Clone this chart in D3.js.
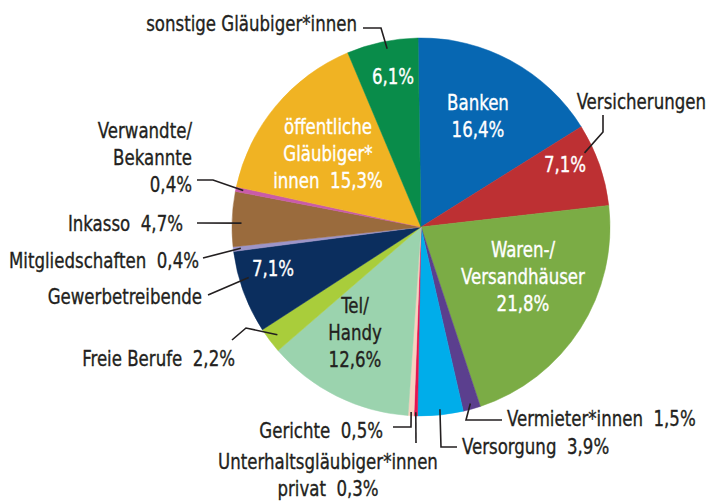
<!DOCTYPE html>
<html>
<head>
<meta charset="utf-8">
<script src="https://cdn.jsdelivr.net/npm/d3@7"></script>
<style>
  body { margin: 0; background: #fff; }
  text { font-family: "DejaVu Sans Condensed", "Liberation Sans Narrow", sans-serif; font-size: 22px; white-space: pre; }
</style>
</head>
<body>
<div id="chart"></div>
<script>
// Gläubiger, clockwise from 12 o'clock
const names = ["Banken", "Versicherungen", "Waren-/Versandhäuser", "Vermieter*innen", "Versorgung",
  "Unterhaltsgläubiger*innen privat", "Gerichte", "Tel/Handy", "Freie Berufe", "Gewerbetreibende",
  "Mitgliedschaften", "Inkasso", "Verwandte/Bekannte", "öffentliche Gläubiger*innen", "sonstige Gläubiger*innen"];
const values = [16.4, 7.1, 21.8, 1.5, 3.9, 0.3, 0.5, 12.6, 2.2, 7.1, 0.4, 4.7, 0.4, 15.3, 6.1];
const colors = ["#0767b2", "#bd3033", "#7bac45", "#5b3f8e", "#00adea", "#e5134f", "#f8d1bf", "#9bd3ae",
  "#a9cd3b", "#0b2e5e", "#9d95c9", "#9a6b3d", "#c95ba9", "#f0b323", "#098c4a"];

const width = 708, height = 501;
const cx = 421, cy = 227, radius = 189;
const ink = "#231f20";
const squeeze = 0.84; // condensed look

const fmt = v => d3.format(".1f")(v).replace(".", ",") + "%";

// labels inside the slices ("%" = value)
const inner = {
  "Banken": { lines: ["Banken", "%"], x: 478, y: 110, fill: "#fff" },
  "Versicherungen": { lines: ["%"], x: 565, y: 172, fill: "#fff" },
  "Waren-/Versandhäuser": { lines: ["Waren-/", "Versandhäuser", "%"], x: 523, y: 257, fill: "#fff" },
  "Tel/Handy": { lines: ["Tel/", "Handy", "%"], x: 355, y: 313, fill: ink },
  "Gewerbetreibende": { lines: ["%"], x: 273, y: 276, fill: "#fff" },
  "öffentliche Gläubiger*innen": { lines: ["öffentliche", "Gläubiger*", "innen  %"], x: 328, y: 134, fill: "#fff" },
  "sonstige Gläubiger*innen": { lines: ["%"], x: 393, y: 84, fill: "#fff" }
};

// labels outside with leader lines (at = position within slice, k = radius share)
const outer = {
  "sonstige Gläubiger*innen": { lines: ["sonstige Gläubiger*innen"], x: 357, y: 31, anchor: "end", elbow: [[363, 28], [381, 28]], at: 0.55, k: 0.96 },
  "Versicherungen": { lines: ["Versicherungen"], x: 706, y: 109, anchor: "end", elbow: [[603, 115], [603, 132]], at: 0.3, k: 0.95 },
  "Vermieter*innen": { lines: ["Vermieter*innen  %"], x: 507, y: 426, anchor: "start", elbow: [[502, 420], [466, 420]], at: 0.5, k: 0.97 },
  "Versorgung": { lines: ["Versorgung  %"], x: 462, y: 454, anchor: "start", elbow: [[457, 447], [441, 447]], at: 0.5, k: 0.97 },
  "Unterhaltsgläubiger*innen privat": { lines: ["Unterhaltsgläubiger*innen", "privat  %"], x: 328, y: 469, anchor: "middle", elbow: [[416, 443]], at: 0.5, k: 0.98 },
  "Gerichte": { lines: ["Gerichte  %"], x: 383, y: 438, anchor: "end", elbow: [[393, 427], [411, 427]], at: 0.5, k: 0.98 },
  "Freie Berufe": { lines: ["Freie Berufe  %"], x: 235, y: 366, anchor: "end", elbow: [[232, 340], [246, 328]], at: 0.5, k: 0.95 },
  "Gewerbetreibende": { lines: ["Gewerbetreibende"], x: 202, y: 304, anchor: "end", elbow: [[208, 295]], at: 0.65, k: 0.95 },
  "Mitgliedschaften": { lines: ["Mitgliedschaften  %"], x: 199, y: 268, anchor: "end", elbow: [[203, 258]], at: 0.5, k: 0.96 },
  "Inkasso": { lines: ["Inkasso  %"], x: 183, y: 231, anchor: "end", elbow: [[197, 223]], at: 0.43, k: 0.95 },
  "Verwandte/Bekannte": { lines: ["Verwandte/", "Bekannte", "%"], x: 192, y: 138, anchor: "end", elbow: [[197, 180], [213, 180]], at: 0.5, k: 0.96 }
};

const data = names.map((n, i) => ({ name: n, value: values[i], color: colors[i] }));

const svg = d3.select("#chart").append("svg")
  .attr("width", width)
  .attr("height", height);

const g = svg.append("g").attr("transform", `translate(${cx},${cy})`);

const offset = -0.9 * Math.PI / 180;
const pie = d3.pie().sort(null).value(d => d.value)
  .startAngle(offset).endAngle(2 * Math.PI + offset);
const arc = d3.arc().innerRadius(0).outerRadius(radius);
const arcs = pie(data);

g.selectAll("path.slice")
  .data(arcs)
  .enter().append("path")
  .attr("class", "slice")
  .attr("d", arc)
  .attr("fill", d => d.data.color)
  .attr("stroke", d => d.data.color)
  .attr("stroke-width", 0.5);

// leader lines
const line = d3.line();
arcs.forEach(a => {
  const o = outer[a.data.name];
  if (!o) return;
  const ang = a.startAngle + (a.endAngle - a.startAngle) * o.at;
  const r = radius * o.k;
  const end = [cx + r * Math.sin(ang), cy - r * Math.cos(ang)];
  svg.append("path")
    .attr("d", line(o.elbow.concat([end])))
    .attr("fill", "none")
    .attr("stroke", ink)
    .attr("stroke-width", 1.6);
});

function addLabel(spec, value, anchor, fill) {
  spec.lines.forEach((l, i) => {
    svg.append("text")
      .attr("xml:space", "preserve")
      .attr("text-anchor", anchor)
      .attr("fill", fill)
      .attr("stroke", fill)
      .attr("stroke-width", 0.35)
      .attr("transform", `translate(${spec.x},${spec.y + i * 27}) scale(${squeeze},1)`)
      .text(l.replace("%", fmt(value)));
  });
}

data.forEach(d => {
  if (inner[d.name]) addLabel(inner[d.name], d.value, "middle", inner[d.name].fill);
  if (outer[d.name]) addLabel(outer[d.name], d.value, outer[d.name].anchor, ink);
});
</script>
</body>
</html>
